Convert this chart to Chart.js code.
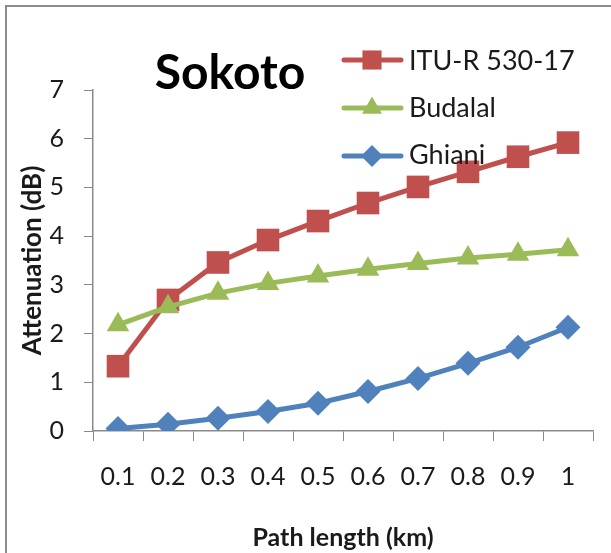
<!DOCTYPE html>
<html><head><meta charset="utf-8">
<script src="https://cdn.jsdelivr.net/npm/chart.js@4"></script>
<style>html,body{margin:0;padding:0;background:#fff}#wrap{width:611px;height:553px;position:relative}</style>
</head><body><div id="wrap"><canvas id="c" width="611" height="553"></canvas></div>
<script>
const categories = ['0.1','0.2','0.3','0.4','0.5','0.6','0.7','0.8','0.9','1'];
const ituValues = [1.33,2.69,3.46,3.92,4.31,4.68,5.01,5.32,5.63,5.92];
const budalalValues = [2.18,2.55,2.83,3.03,3.18,3.32,3.44,3.55,3.63,3.72];
const ghianiValues = [0.05,0.14,0.26,0.40,0.57,0.81,1.08,1.39,1.72,2.13];
const seriesNames = ['ITU-R 530-17','Budalal','Ghiani'];
const chartTitle = 'Sokoto';
const xTitle = 'Path length (km)';
const yTitle = 'Attenuation (dB)';
const yMin = 0, yMax = 7, yStep = 1;

const FONT = 'Lato, "Open Sans", sans-serif';
const TEXT = '#1a1a1a';
const AXIS = '#8a8a8a';

const styles = [
  {color:'#C0504D', point:'rect', r:16, order:3, lr:13.5},
  {color:'#9BBB59', point:'triangle', r:13, order:2, lr:11.5},
  {color:'#4F81BD', point:'rectRot', r:12.5, order:1, lr:11}
];
const seriesValues = [ituValues, budalalValues, ghianiValues];

const decor = {
  id:'decor',
  beforeDraw(chart){
    const ctx = chart.ctx;
    ctx.save();
    ctx.fillStyle = '#fff';
    ctx.fillRect(0,0,chart.width,chart.height);
    ctx.strokeStyle = '#8c8c8c';
    ctx.lineWidth = 2;
    ctx.beginPath();
    ctx.moveTo(6, chart.height); ctx.lineTo(6, 6); ctx.lineTo(chart.width, 6);
    ctx.stroke();
    ctx.restore();
  },
  afterDraw(chart){
    const ctx = chart.ctx;
    ctx.save();
    ctx.fillStyle = '#000';
    ctx.font = 'bold 48px ' + FONT;
    ctx.textAlign = 'center';
    ctx.textBaseline = 'alphabetic';
    ctx.fillText(chartTitle, 230, 89);
    // legend
    chart.data.datasets.forEach((ds, i) => {
      const st = styles[i];
      const cy = 60 + i*48;
      ctx.strokeStyle = st.color;
      ctx.lineWidth = 5;
      ctx.lineCap = 'round';
      ctx.beginPath(); ctx.moveTo(344, cy); ctx.lineTo(401, cy); ctx.stroke();
      ctx.fillStyle = st.color;
      Chart.helpers.drawPoint(ctx, {pointStyle: st.point, radius: st.lr, rotation:0, borderWidth:0}, 372, cy);
      ctx.fillStyle = TEXT;
      ctx.font = '27px ' + FONT;
      ctx.textAlign = 'left';
      ctx.fillText(ds.label, 409, 70 + i*47);
    });
    ctx.restore();
  }
};

new Chart(document.getElementById('c'), {
  type:'line',
  data:{
    labels: categories,
    datasets: seriesNames.map((n,i)=>({
      label:n,
      data:seriesValues[i],
      borderColor:styles[i].color,
      backgroundColor:styles[i].color,
      borderWidth:5,
      pointStyle:styles[i].point,
      pointRadius:styles[i].r,
      pointBorderWidth:0,
      pointBackgroundColor:styles[i].color,
      tension:0,
      order:styles[i].order
    }))
  },
  options:{
    responsive:false,
    animation:false,
    events:[],
    layout:{padding:{top:90,right:18,left:0,bottom:0}},
    plugins:{legend:{display:false},tooltip:{enabled:false},title:{display:false}},
    scales:{
      x:{
        offset:true,
        grid:{offset:true,drawOnChartArea:false,drawTicks:true,tickLength:10,color:AXIS,lineWidth:1},
        border:{color:AXIS,width:1.5},
        ticks:{color:TEXT,font:{family:FONT,size:25},padding:21,maxRotation:0,autoSkip:false},
        title:{display:true,text:xTitle,color:TEXT,font:{family:FONT,size:25,weight:'bold',lineHeight:1.1},padding:{top:0,bottom:1}},
        afterFit(s){ s.height = 122; }
      },
      y:{
        min:yMin,max:yMax,
        grid:{drawOnChartArea:false,drawTicks:true,tickLength:9,color:AXIS,lineWidth:1},
        border:{color:AXIS,width:1.5},
        ticks:{stepSize:yStep,color:TEXT,font:{family:FONT,size:25},padding:20},
        title:{display:true,text:yTitle,color:TEXT,font:{family:FONT,size:26,weight:'bold',lineHeight:1.2},padding:{top:17,bottom:0}},
        afterFit(s){ s.width = 93; }
      }
    }
  },
  plugins:[decor]
});
</script>
</body></html>
